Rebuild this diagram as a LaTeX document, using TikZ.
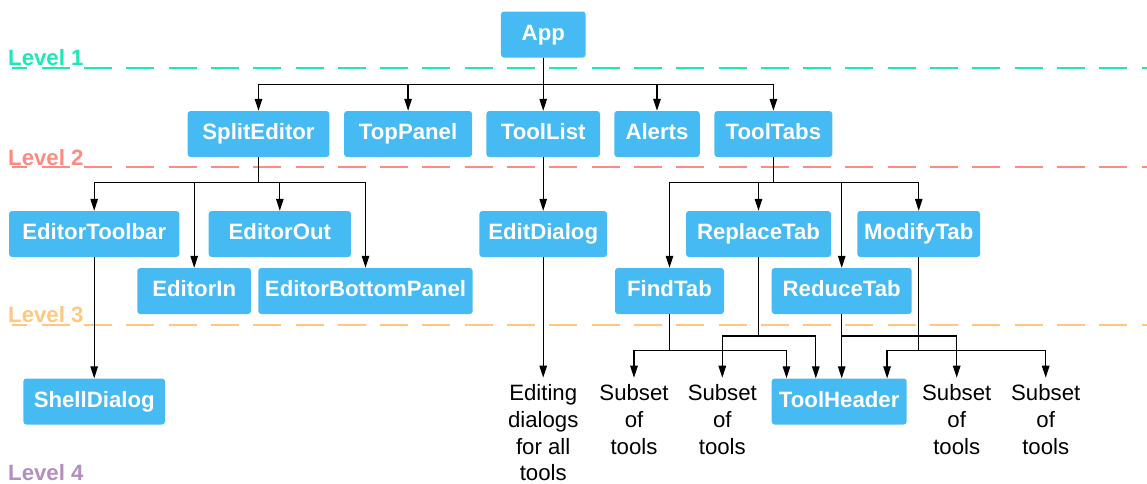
\documentclass[tikz,border=0pt]{standalone}
\usepackage{fontspec}
\setmainfont{Liberation Sans}
\usetikzlibrary{arrows.meta}
\definecolor{boxblue}{RGB}{70,186,243}
\definecolor{lvlone}{HTML}{1DE9B6}
\definecolor{lvltwo}{HTML}{FF8A80}
\definecolor{lvlthree}{HTML}{FFC77F}
\definecolor{lvlfour}{HTML}{B48EBD}
\tikzset{
  comp/.style={fill=boxblue, rounded corners=3pt, text=white, inner sep=0pt,
    minimum height=46pt, text height=16pt, text depth=4.6pt,
    font=\fontsize{22.2}{26}\selectfont\bfseries},
  note/.style={align=center, inner sep=0pt, anchor=north,
    font=\fontsize{22.2}{26.7}\selectfont},
  conn/.style={draw=black, line width=1.25pt,
    -{Triangle[length=12pt,width=7.5pt]}},
  lvlline/.style={line width=2pt, dash pattern=on 28pt off 14.3pt, dash phase=12.6pt},
  lvllabel/.style={anchor=base west, inner sep=0pt,
    font=\fontsize{22.2}{26}\selectfont\bfseries},
}
\begin{document}
\begin{tikzpicture}[x=1pt,y=-1pt]
\useasboundingbox (0,0) rectangle (1147,483);

% level separators
\draw[lvlline, lvlone]   (12,68.3)  -- (1147,68.3);
\draw[lvlline, lvltwo]   (12,167.3) -- (1147,167.3);
\draw[lvlline, lvlthree] (12,324.5) -- (1147,324.5);

\node[lvllabel, text=lvlone]   (L1) at (8,65)  {Level 1};
\node[lvllabel, text=lvltwo]   (L2) at (8,165) {Level 2};
\node[lvllabel, text=lvlthree] (L3) at (8,322) {Level 3};
\node[lvllabel, text=lvlfour]  (L4) at (8,480) {Level 4};

% level 1
\node[comp, minimum width=84.7pt] (App) at (543.3,34.5) {App};

% level 2
\node[comp, minimum width=141.8pt] (SplitEditor) at (258.5,134) {SplitEditor};
\node[comp, minimum width=128pt]   (TopPanel)    at (408.1,134) {TopPanel};
\node[comp, minimum width=113.6pt] (ToolList)    at (543.2,134) {ToolList};
\node[comp, minimum width=85.5pt]  (Alerts)      at (657,134)   {Alerts};
\node[comp, minimum width=117.9pt] (ToolTabs)    at (773.4,134) {ToolTabs};

% level 3
\node[comp, minimum width=170.3pt] (EditorToolbar) at (94.2,234)  {EditorToolbar};
\node[comp, minimum width=142.3pt] (EditorOut)     at (279.8,234) {EditorOut};
\node[comp, minimum width=127.7pt] (EditDialog)    at (543.2,234) {EditDialog};
\node[comp, minimum width=145pt]   (ReplaceTab)    at (758.5,234) {ReplaceTab};
\node[comp, minimum width=122.7pt] (ModifyTab)     at (918.7,234) {ModifyTab};
\node[comp, minimum width=113.7pt] (EditorIn)      at (194.2,291) {EditorIn};
\node[comp, minimum width=214.4pt] (EditorBottomPanel) at (365.5,291) {EditorBottomPanel};
\node[comp, minimum width=109pt]   (FindTab)       at (669.5,291) {FindTab};
\node[comp, minimum width=140pt]   (ReduceTab)     at (841.7,291) {ReduceTab};

% level 4
\node[comp, minimum width=141.7pt] (ShellDialog) at (94.2,401.5)  {ShellDialog};
\node[comp, minimum width=135pt]   (ToolHeader)  at (839.2,401.5) {ToolHeader};
\node[note] (Editing) at (543.2,384.5) {Editing\\dialogs\\for all\\tools};
\node[note] (S1) at (634,384.5)    {Subset\\of\\tools};
\node[note] (S2) at (722.3,384.5)  {Subset\\of\\tools};
\node[note] (S3) at (956.7,384.5)  {Subset\\of\\tools};
\node[note] (S4) at (1045.7,384.5) {Subset\\of\\tools};

% App -> level 2
\foreach \c in {SplitEditor,TopPanel,ToolList,Alerts,ToolTabs}
  \draw[conn] (App.south) -- ++(0,26.7) -| (\c.north);

% SplitEditor -> editor parts
\foreach \c in {EditorToolbar,EditorIn,EditorOut,EditorBottomPanel}
  \draw[conn] (SplitEditor.south) -- ++(0,25.5) -| (\c.north);

% ToolTabs -> tabs
\foreach \c in {FindTab,ReplaceTab,ReduceTab,ModifyTab}
  \draw[conn] (ToolTabs.south) -- ++(0,25.5) -| (\c.north);

\draw[conn] (ToolList.south) -- (EditDialog.north);
\draw[conn] (EditDialog.south) -- ([yshift=6.8pt]Editing.north);
\draw[conn] (EditorToolbar.south) -- (ShellDialog.north);

% tabs -> tool subsets and header
\draw[conn] (FindTab.south) -- ++(0,36) -| ([yshift=6.8pt]S1.north);
\draw[conn] (FindTab.south) -- ++(0,36) -| ([xshift=15pt]ToolHeader.north west);
\draw[conn] (ReplaceTab.south) -- ++(0,78.7) -| ([yshift=6.8pt]S2.north);
\draw[conn] (ReplaceTab.south) -- ++(0,78.7) -| ([xshift=44.3pt]ToolHeader.north west);
\draw[conn] (ReduceTab.south) -- (ReduceTab.south |- ToolHeader.north);
\draw[conn] (ReduceTab.south) -- ++(0,21.7) -| ([yshift=6.8pt]S3.north);
\draw[conn] (ModifyTab.south) -- ++(0,93) -| ([xshift=115.6pt]ToolHeader.north west);
\draw[conn] (ModifyTab.south) -- ++(0,93) -| ([yshift=6.8pt]S4.north);
\end{tikzpicture}
\end{document}
